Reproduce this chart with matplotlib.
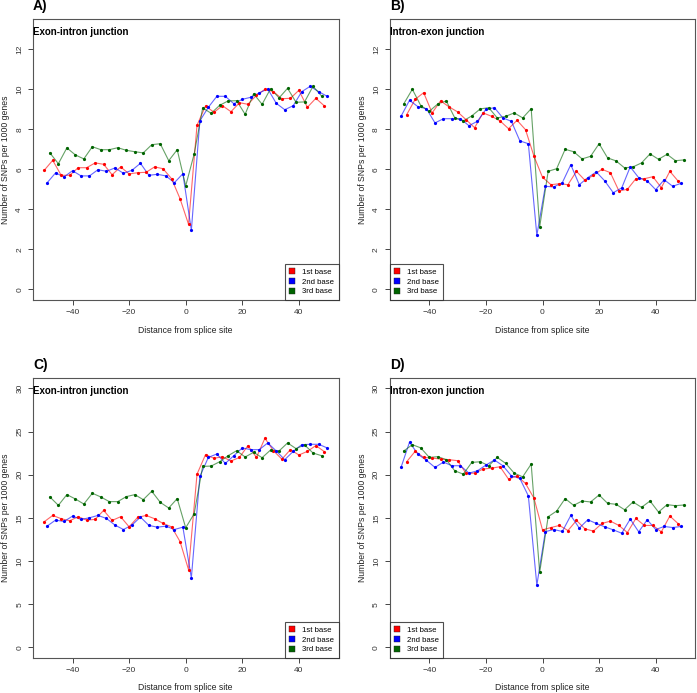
import numpy as np
import matplotlib
matplotlib.use('Agg')
import matplotlib.pyplot as plt
from matplotlib.lines import Line2D

plt.rcParams['font.family'] = ['Liberation Sans', 'DejaVu Sans']

# x positions of each base series (every third position around the splice site)
x_from_m50 = np.arange(-50, 50, 3)   # -50 ... 49
x_from_m49 = np.arange(-49, 51, 3)   # -49 ... 50
x_from_m48 = np.arange(-48, 49, 3)   # -48 ... 48

# A) exon-intron, first set (per 1000 genes)
a_red = [5.95, 6.45, 5.7, 5.7, 6.08, 6.08, 6.32, 6.25, 5.73, 6.12, 5.77, 5.83, 5.85, 6.12, 6.03, 5.53, 4.53, 3.25,
         8.2, 9.17, 8.85, 9.18, 8.88, 9.33, 9.25, 9.7, 10.0, 9.88, 9.53, 9.55, 9.95, 9.1, 9.55, 9.17]
a_blue = [5.32, 5.82, 5.62, 5.93, 5.67, 5.67, 5.98, 5.9, 6.07, 5.8, 5.95, 6.3, 5.7, 5.75, 5.67, 5.33, 5.78,
          2.95, 8.42, 9.1, 9.65, 9.65, 9.28, 9.5, 9.6, 9.82, 10.02, 9.3, 8.98, 9.18, 9.88, 10.15, 9.88, 9.65]
a_green = [6.82, 6.28, 7.07, 6.72, 6.52, 7.13, 6.98, 6.98, 7.08, 6.95, 6.88, 6.82, 7.23, 7.28, 6.43, 6.98, 5.17,
           6.77, 9.07, 8.8, 9.2, 9.42, 9.43, 8.75, 9.78, 9.25, 10.03, 9.57, 10.05, 9.35, 9.37, 10.15, 9.67]

# B) intron-exon, first set
b_blue = [8.65, 9.45, 9.13, 9.03, 8.32, 8.53, 8.53, 8.53, 8.18, 8.4, 9.0, 9.08, 8.57, 8.4, 7.42, 7.28, 2.7,
          5.15, 5.12, 5.33, 6.23, 5.23, 5.58, 5.87, 5.42, 4.83, 5.07, 6.12, 5.58, 5.42, 4.98, 5.48, 5.15, 5.3]
b_green = [9.28, 10.0, 9.18, 8.9, 9.27, 9.42, 8.57, 8.42, 8.67, 9.02, 9.08, 8.57, 8.65, 8.82, 8.57, 9.03, 3.12,
           5.9, 6.03, 7.0, 6.88, 6.52, 6.65, 7.28, 6.57, 6.42, 6.07, 6.12, 6.32, 6.77, 6.5, 6.75, 6.43, 6.47]
b_red = [8.73, 9.5, 9.83, 8.82, 9.42, 9.12, 8.87, 8.48, 8.08, 8.82, 8.65, 8.42, 8.03, 8.45, 7.98, 6.65, 5.6,
         5.23, 5.28, 5.23, 5.9, 5.45, 5.7, 6.0, 5.83, 4.92, 5.0, 5.53, 5.53, 5.63, 5.08, 5.9, 5.4]

# C) exon-intron, second set
c_red = [14.55, 15.28, 14.9, 14.66, 15.13, 14.74, 14.82, 15.87, 14.7, 15.13, 13.96, 15.05, 15.28, 14.9, 14.35, 13.96, 12.25, 9.0,
         20.06, 22.32, 21.9, 22.08, 21.58, 22.0, 23.37, 22.0, 24.22, 22.78, 21.8, 22.9, 22.28, 22.7, 23.37, 22.67]
c_blue = [14.04, 14.74, 14.58, 15.2, 14.82, 15.01, 15.28, 14.93, 14.16, 13.65, 14.16, 15.09, 14.12, 13.92, 14.04, 13.65, 13.92,
          8.05, 19.79, 22.0, 22.4, 21.31, 22.2, 23.1, 22.9, 22.9, 23.68, 22.75, 21.74, 22.7, 23.48, 23.52, 23.52, 23.1]
c_green = [17.42, 16.45, 17.69, 17.19, 16.6, 17.85, 17.42, 16.88, 16.88, 17.46, 17.69, 17.11, 18.08, 16.8, 16.14, 17.23, 13.85,
           15.48, 20.96, 21.0, 21.5, 22.2, 22.78, 22.05, 22.59, 21.97, 22.86, 22.75, 23.68, 23.02, 23.45, 22.51, 22.2]

# D) intron-exon, second set
d_blue = [20.84, 23.76, 22.36, 21.66, 20.84, 21.46, 21.04, 21.04, 20.18, 20.45, 21.11, 21.7, 21.04, 19.87, 19.56, 17.54, 7.2,
          13.4, 13.65, 13.42, 15.28, 13.81, 14.78, 14.35, 13.96, 13.61, 13.22, 14.86, 13.38, 14.78, 13.65, 14.0, 13.88, 14.0]
d_green = [22.75, 23.48, 23.1, 22.0, 22.09, 21.74, 20.45, 20.06, 21.42, 21.5, 21.04, 22.0, 21.31, 20.18, 19.75, 21.23, 8.68,
           15.13, 15.79, 17.23, 16.45, 16.95, 16.84, 17.65, 16.68, 16.57, 15.94, 16.84, 16.22, 16.95, 15.67, 16.53, 16.41, 16.49]
d_red = [21.5, 22.71, 22.0, 21.93, 21.81, 21.74, 21.62, 20.14, 20.18, 20.65, 20.76, 20.92, 19.48, 19.87, 18.98, 17.27, 13.6,
         13.88, 14.12, 13.53, 14.7, 13.73, 13.46, 14.35, 14.62, 14.12, 13.3, 14.93, 14.12, 14.12, 13.38, 15.21, 14.31]

legend_labels = ['1st base', '2nd base', '3rd base']
colors = ['#ff0000', '#0000ff', '#006400']

W, H = 697, 693
fig = plt.figure(figsize=(W / 100, H / 100), dpi=100)


def px_axes(x0, y0, x1, y1):
    return fig.add_axes([x0 / W, 1 - y1 / H, (x1 - x0) / W, (y1 - y0) / H])


def panel(ax, series, title, letter, ymax, yticks, legend_loc):
    for (xs, ys), c in zip(series, colors):
        ax.plot(xs, ys, color=c, lw=0.8, alpha=0.6, zorder=2)
        ax.plot(xs, ys, 'o', color=c, ms=2.3, mew=0, zorder=3)
    ax.set_xlim(-54, 54)
    pad = ymax * 0.04
    ax.set_ylim(-pad, ymax + pad)
    ax.set_xticks([-40, -20, 0, 20, 40])
    ax.set_yticks(yticks)
    ax.tick_params(labelsize=6, colors='#444444', labelcolor='#333333', length=3.5, width=0.7)
    for lab in ax.get_yticklabels():
        lab.set_rotation(90)
        lab.set_va('center')
    for s in ax.spines.values():
        s.set_color('#555555')
        s.set_linewidth(0.8)
    ax.set_xlabel('Distance from splice site', fontsize=6.2, color='#222222', va='center')
    ax.set_ylabel('Number of SNPs per 1000 genes', fontsize=6.2, color='#222222', va='center')
    ax.xaxis.set_label_coords(0.5, -0.108)
    ax.yaxis.set_label_coords(-0.089, 0.5)
    ax.text(0.0, 0.955, title, transform=ax.transAxes, fontsize=7, fontweight='bold', ha='left', va='center')
    ax.text(0.0, 1.045, letter, transform=ax.transAxes, fontsize=10, fontweight='bold', ha='left', va='center')
    handles = [Line2D([], [], marker='s', ls='none', color=c, ms=4, mec='#222222', mew=0.3) for c in colors]
    leg = ax.legend(handles, legend_labels, loc=legend_loc, fontsize=5.6, frameon=True, fancybox=False,
                    borderaxespad=0, handlelength=0.8, handletextpad=0.9, labelspacing=0.3, borderpad=0.55)
    leg.get_frame().set_edgecolor('#222222')
    leg.get_frame().set_linewidth(0.8)


axA = px_axes(32.9, 18.9, 338.5, 299.7)
axB = px_axes(389.7, 18.9, 695.3, 299.7)
axC = px_axes(32.9, 378.0, 338.5, 657.7)
axD = px_axes(389.7, 378.0, 695.3, 657.7)

panel(axA, [(x_from_m50, a_red), (x_from_m49, a_blue), (x_from_m48, a_green)],
      'Exon-intron junction', 'A)', 13, range(0, 13, 2), 'lower right')
panel(axB, [(x_from_m48, b_red), (x_from_m50, b_blue), (x_from_m49, b_green)],
      'Intron-exon junction', 'B)', 13, range(0, 13, 2), 'lower left')
panel(axC, [(x_from_m50, c_red), (x_from_m49, c_blue), (x_from_m48, c_green)],
      'Exon-intron junction', 'C)', 30, range(0, 31, 5), 'lower right')
panel(axD, [(x_from_m48, d_red), (x_from_m50, d_blue), (x_from_m49, d_green)],
      'Intron-exon junction', 'D)', 30, range(0, 31, 5), 'lower left')

fig.savefig('out.png', dpi=100)
